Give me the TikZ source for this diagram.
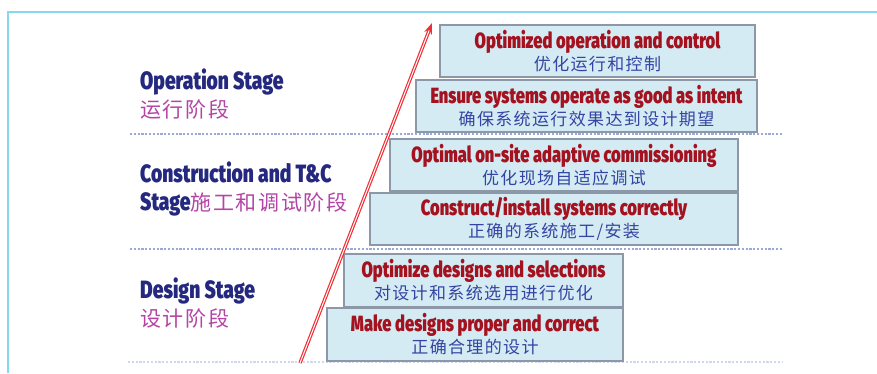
\documentclass[tikz,border=0pt]{standalone}
\usepackage{fontspec}
\usetikzlibrary{arrows.meta}
\newfontfamily\hdfont[FakeStretch=0.75]{Fira Sans Black}
\newfontfamily\stagefont[FakeStretch=0.77]{Fira Sans Black}
\newfontfamily\cjkfont[LetterSpace=8]{Noto Sans CJK SC}
\definecolor{frameCyan}{HTML}{86D8F2}
\definecolor{stageNavy}{HTML}{24287E}
\definecolor{stageMagenta}{HTML}{B445A6}
\definecolor{goalRed}{HTML}{A3121E}
\definecolor{goalBlue}{HTML}{3444A2}
\definecolor{boxFill}{HTML}{D4EBF3}
\definecolor{boxEdge}{HTML}{8C98A8}
\definecolor{dotLine}{HTML}{9AAAD6}
\definecolor{arrowRed}{HTML}{EE3036}
\begin{document}
\begin{tikzpicture}[x=1pt,y=-1pt,
  goal/.style={draw=boxEdge, line width=1.2pt, fill=boxFill, inner sep=0pt,
    align=center, font=\fontsize{22}{22}\selectfont},
  stagelabel/.style={anchor=west, inner sep=0pt, align=left,
    font=\fontsize{25}{28}\selectfont},
  divider/.style={dotLine, line width=1.3pt, dash pattern=on 2.2pt off 1.6pt},
]
\useasboundingbox (0,0) rectangle (877,373);
\fill[white] (0,0) rectangle (877,373);

% open frame along the top and left
\draw[frameCyan, line width=2pt] (8,373) -- (8,12) -- (877,12);

% stage dividers
\draw[divider] (130,134) -- (783,134);
\draw[divider] (130,249) -- (783,249);
\draw[divider, opacity=0.45] (128,362) -- (783,362);

% stage titles
\newcommand{\cjkstage}[1]{{\fontsize{21}{28}\selectfont\cjkfont\color{stageMagenta}#1}}
\node[stagelabel] (op) at (140,94) {{\stagefont\color{stageNavy}Operation Stage}\\\cjkstage{运行阶段}};
\node[stagelabel] (ct) at (140,189) {{\stagefont\color{stageNavy}Construction and T\&C}\\{\stagefont\color{stageNavy}Stage}\cjkstage{施工和调试阶段}};
\node[stagelabel] (ds) at (140,303) {{\stagefont\color{stageNavy}Design Stage}\\\cjkstage{设计阶段}};

% goal boxes, bottom to top
\newcommand{\goaltext}[2]{{\hdfont\color{goalRed}#1}\\{\fontsize{17}{22}\selectfont\cjkfont\color{goalBlue}#2}}
\node[goal, minimum width=296pt, minimum height=53pt] (g1) at (475,334.5)
  {\goaltext{Make designs proper and correct}{正确合理的设计}};
\node[goal, minimum width=279pt, minimum height=53pt] (g2) at (483.5,280.5)
  {\goaltext{Optimize designs and selections}{对设计和系统选用进行优化}};
\node[goal, minimum width=368pt, minimum height=52pt] (g3) at (554,219)
  {\goaltext{Construct/install systems correctly}{正确的系统施工/安装}};
\node[goal, minimum width=348pt, minimum height=52pt] (g4) at (564,165)
  {\goaltext{Optimal on-site adaptive commissioning}{优化现场自适应调试}};
\node[goal, minimum width=341pt, minimum height=52pt] (g5) at (586.5,106)
  {\goaltext{Ensure systems operate as good as intent}{确保系统运行效果达到设计期望}};
\node[goal, minimum width=315pt, minimum height=52pt] (g6) at (597.5,51)
  {\goaltext{Optimized operation and control}{优化运行和控制}};

% rising progress arrow
\coordinate (arrTail) at (300,363);
\coordinate (arrHead) at (432,23);
\draw[arrowRed, line width=1.2pt, double=white, double distance=1pt,
  -{Stealth[length=11pt,width=8pt]}] (arrTail) -- (arrHead);
\end{tikzpicture}
\end{document}
